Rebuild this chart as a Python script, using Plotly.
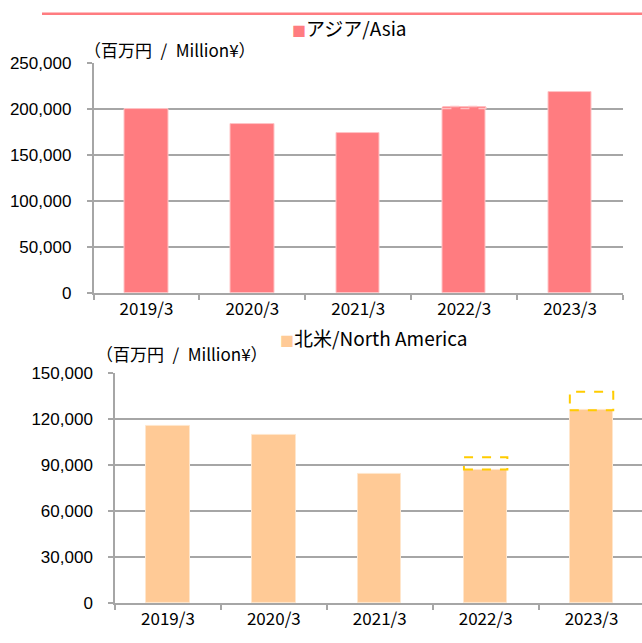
import plotly.graph_objects as go

categories = ["2019/3", "2020/3", "2021/3", "2022/3", "2023/3"]

asia_actual = [199800, 183400, 173900, 200600, 219000]
asia_plan_top = [None, None, None, 202700, None]

na_actual = [115800, 109700, 84400, 87100, 125700]
na_plan_top = [None, None, None, 95100, 137700]

asia_ticks = [0, 50000, 100000, 150000, 200000, 250000]
na_ticks = [0, 30000, 60000, 90000, 120000, 150000]

PINK = "#FF7C80"
ORANGE = "#FFCA96"
GOLD = "#FFCC00"
GRID = "#A6A6A6"
JP = "Noto Sans CJK JP"
W, H = 642, 643

BAR_W = 0.41

fig = go.Figure()
fig.add_trace(go.Bar(x=categories, y=asia_actual, marker=dict(color=PINK, line=dict(color="#FFC4C6", width=1)),
                     width=BAR_W, xaxis="x", yaxis="y", showlegend=False))
fig.add_trace(go.Bar(x=categories, y=na_actual, marker=dict(color=ORANGE, line=dict(color="#FFE6CC", width=1)),
                     width=BAR_W, xaxis="x2", yaxis="y2", showlegend=False))

shapes = []
for i, (a, p) in enumerate(zip(asia_actual, asia_plan_top)):
    if p is not None:
        shapes.append(dict(type="rect", xref="x", yref="y", x0=i - BAR_W / 2, x1=i + BAR_W / 2, y0=a, y1=p,
                           fillcolor=PINK, line=dict(color="#FFC0C2", width=1.5, dash="dash"), layer="above"))
for i, (a, p) in enumerate(zip(na_actual, na_plan_top)):
    if p is not None:
        shapes.append(dict(type="rect", xref="x2", yref="y2", x0=i - BAR_W / 2, x1=i + BAR_W / 2, y0=a, y1=p,
                           fillcolor="rgba(0,0,0,0)", line=dict(color=GOLD, width=2, dash="dash"), layer="above"))
# top decorative line
shapes.append(dict(type="line", xref="paper", yref="paper", x0=42 / W, x1=1, y0=1 - 5 / H, y1=1 - 5 / H,
                   line=dict(color=PINK, width=2.5)))


def px_x(v):
    return v / W


def px_y(v):
    return 1 - v / H


def yaxis(ticks, dom, rng):
    return dict(domain=dom, range=rng, tickvals=ticks, tickformat=",d", showgrid=True, gridcolor=GRID,
                gridwidth=1.5, showline=True, linecolor=GRID, linewidth=1.5, ticks="outside", ticklen=5,
                tickcolor=GRID, tickwidth=1.5, zeroline=False, fixedrange=True,
                tickfont=dict(family="Liberation Sans", size=17, color="#000"), ticklabelstandoff=12)


def xaxis(dom, anchor, rng):
    return dict(domain=dom, anchor=anchor, type="category", range=rng, showline=True, linecolor=GRID,
                linewidth=1.5, ticks="outside", tickson="boundaries", ticklen=5, tickcolor=GRID, tickwidth=1.5,
                showgrid=False, tickfont=dict(family=JP, size=17, color="#000"), fixedrange=True)


UNIT = "（百万円\u2002/\u2002Million¥）"

fig.update_layout(
    width=W, height=H, margin=dict(l=0, r=0, t=0, b=0), paper_bgcolor="white", plot_bgcolor="white",
    bargap=0,
    xaxis=xaxis([px_x(93.5), px_x(623)], "y", [-0.5, 4.5]),
    yaxis=yaxis(asia_ticks, [px_y(292.7), px_y(55.7)], [0, 250000]),
    xaxis2=xaxis([px_x(115), 1.0], "y2", [-0.5, 4.5 - 2.5 / 105.9]),
    yaxis2=dict(yaxis(na_ticks, [px_y(612.3), px_y(375)], [0, 150000]), anchor="x2"),
    shapes=shapes,
    annotations=[
        dict(xref="paper", yref="paper", x=px_x(350), y=px_y(19), xanchor="center", yanchor="middle",
             showarrow=False, text=f"<span style='color:{PINK};font-size:14px'>■</span>アジア/Asia",
             font=dict(family=JP, size=19, color="#000")),
        dict(xref="paper", yref="paper", x=px_x(82), y=px_y(42), xanchor="left", yanchor="middle",
             showarrow=False, text=UNIT, font=dict(family=JP, size=17, color="#000")),
        dict(xref="paper", yref="paper", x=px_x(373), y=px_y(339), xanchor="center", yanchor="middle",
             showarrow=False, text=f"<span style='color:{ORANGE};font-size:14px'>■</span>北米/North America",
             font=dict(family=JP, size=19, color="#000")),
        dict(xref="paper", yref="paper", x=px_x(94), y=px_y(355), xanchor="left", yanchor="middle",
             showarrow=False, text=UNIT, font=dict(family=JP, size=17, color="#000")),
    ],
)

fig.write_html("out.html", config={"displayModeBar": False},
               post_script="document.body.style.margin='0';document.body.style.padding='0';")
